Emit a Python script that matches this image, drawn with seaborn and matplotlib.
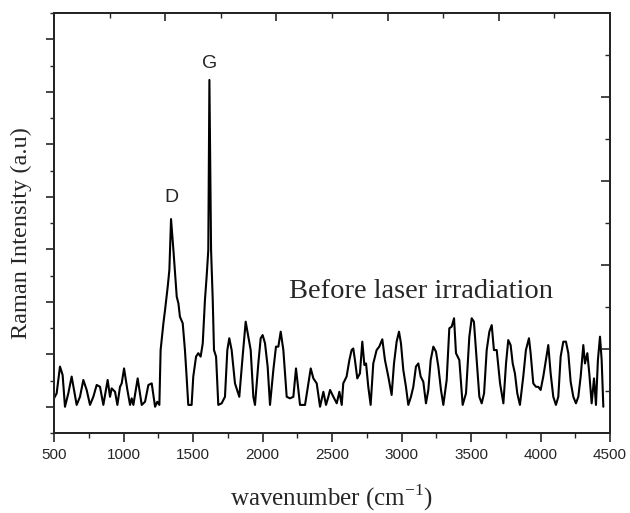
import numpy as np
import pandas as pd
import matplotlib
matplotlib.use("Agg")
import matplotlib.pyplot as plt
import seaborn as sns
from matplotlib.ticker import MultipleLocator, NullFormatter

wavenumber = [500, 519, 543, 562, 579, 603, 627, 644, 663, 687, 711, 735, 759, 783, 807, 831, 855,
              886, 903, 915, 939, 956, 975, 987, 1004, 1028, 1047, 1059, 1071, 1102, 1131, 1155,
              1179, 1203, 1227, 1243, 1258, 1267, 1287, 1299, 1318, 1330, 1335, 1342, 1359, 1371,
              1383, 1395, 1406, 1426, 1442, 1454, 1466, 1490, 1502, 1522, 1538, 1555, 1570, 1586,
              1598, 1610, 1618, 1630, 1642, 1651, 1666, 1682, 1706, 1730, 1747, 1761, 1778, 1802,
              1833, 1857, 1879, 1898, 1915, 1934, 1946, 1970, 1987, 2001, 2018, 2037, 2054, 2078,
              2097, 2114, 2131, 2150, 2174, 2198, 2222, 2241, 2258, 2270, 2306, 2330, 2347, 2366,
              2390, 2414, 2438, 2457, 2474,
              2486, 2510, 2534, 2553, 2570, 2581, 2605, 2625, 2641, 2653, 2665, 2682, 2701, 2718,
              2733, 2745, 2761, 2778, 2797, 2821, 2840, 2862, 2881, 2905, 2929, 2946, 2965, 2982,
              2996, 3013, 3032, 3049, 3068, 3085, 3104, 3121, 3138, 3157, 3176, 3193, 3210, 3229,
              3248, 3265, 3284, 3301, 3325, 3344, 3361, 3378, 3392, 3416, 3440, 3464, 3488, 3505,
              3521, 3541, 3560, 3577, 3594, 3613, 3632, 3649, 3665, 3685, 3709, 3733, 3752, 3768,
              3785, 3800, 3816, 3833, 3852, 3876, 3895, 3917, 3929, 3948, 3967, 3984, 4001, 4020,
              4039, 4056, 4073, 4092, 4111, 4128, 4145, 4164, 4183, 4200, 4217, 4236, 4255, 4272,
              4289, 4308, 4320, 4337, 4351, 4368, 4385, 4399, 4413, 4428, 4440, 4452]
intensity = [1.32, 1.51, 2.53, 2.21, 1.00, 1.51, 2.15, 1.64, 1.07, 1.38, 2.02, 1.64, 1.07, 1.38, 1.83,
             1.76, 1.07, 2.02, 1.38, 1.70, 1.57, 1.07, 1.76, 1.89, 2.46, 1.64, 1.07, 1.32, 1.07, 2.08,
             1.07, 1.19, 1.83, 1.89, 1.00, 1.19, 1.07, 3.16, 4.18, 4.69, 5.57, 6.21, 6.97, 8.15, 6.97,
             6.08, 5.19, 4.94, 4.43, 4.18, 3.16, 2.15, 1.07, 1.07, 2.15, 2.91, 3.04, 2.91, 3.41, 5.07,
             5.95, 6.97, 13.45, 6.97, 5.07, 3.16, 2.91, 1.07, 1.13, 1.38, 3.16, 3.61, 3.16, 1.89,
             1.38, 2.91, 4.24, 3.67, 3.16, 1.38, 1.07, 2.65, 3.61, 3.73, 3.42, 2.53, 1.07, 2.40,
             3.29, 3.29, 3.86, 3.16, 1.38, 1.32, 1.38, 2.46, 1.64, 1.07, 1.07, 1.89, 2.46, 2.08,
             1.89, 1.00, 1.57, 1.07, 1.38,
             1.64, 1.38, 1.13, 1.57, 1.07, 1.89, 2.15, 2.78, 3.16, 3.22, 2.78, 2.08, 2.27, 3.48,
             2.59, 2.65, 1.76, 1.07, 2.65, 3.16, 3.29, 3.57, 2.78, 2.15, 1.45, 2.65, 3.48, 3.86,
             3.42, 2.40, 1.76, 1.07, 1.38, 1.76, 2.53, 2.65, 2.15, 1.95, 1.13, 1.64, 2.78, 3.29,
             3.10, 2.53, 1.64, 1.07, 2.02, 3.99, 4.05, 4.37, 3.04, 2.78, 1.07, 1.51, 3.67, 4.37,
             4.24, 2.78, 1.38, 1.13, 1.51, 3.16, 3.86, 4.11, 3.16, 3.16, 1.89, 1.13, 2.65, 3.54,
             3.35, 2.65, 2.27, 1.51, 1.07, 2.15, 3.16, 3.61, 3.04, 1.89, 1.76, 1.76, 1.64, 2.15,
             2.78, 3.35, 2.27, 1.38, 1.07, 1.38, 2.91, 3.48, 3.48, 3.04, 1.95, 1.38, 1.13, 1.38,
             2.15, 3.35, 2.65, 3.04, 2.27, 1.13, 2.08, 1.07, 2.78, 3.67, 2.78, 1.00]

x_ticks = [500, 1000, 1500, 2000, 2500, 3000, 3500, 4000, 4500]
peak_labels = ["D", "G"]
peak_pos = [(1342, 8.15), (1618, 13.45)]

df = pd.DataFrame({"wavenumber": wavenumber, "intensity": intensity})

sns.set_style("ticks")
plt.rcParams["font.family"] = ["Liberation Sans", "DejaVu Sans"]

fig = plt.figure(figsize=(6.30, 5.13), dpi=100)
ax = fig.add_axes([54 / 630, 1 - 433 / 513, 556 / 630, 420 / 513])

sns.lineplot(data=df, x="wavenumber", y="intensity", color="black", linewidth=1.5, ax=ax,
             estimator=None, sort=False)

ax.set_xlim(500, 4500)
ax.set_ylim(0, 16)
ax.set_xticks(x_ticks)
ax.set_xticklabels([str(t) for t in x_ticks], fontsize=11)
ax.xaxis.set_minor_locator(MultipleLocator(250))
ax.set_yticks(np.arange(1, 16, 2))
ax.yaxis.set_minor_locator(MultipleLocator(1))
ax.yaxis.set_major_formatter(NullFormatter())
ax.tick_params(axis="x", which="major", direction="out", length=6.5, width=1.2, pad=4)
ax.tick_params(axis="x", which="minor", direction="out", length=3.5, width=1.0)
ax.tick_params(axis="y", which="major", direction="out", length=5.5, width=1.2)
ax.tick_params(axis="y", which="minor", direction="out", length=3.0, width=1.0)
for s in ax.spines.values():
    s.set_linewidth(1.3)
    s.set_color("black")

# top and right axes with their own tick spacing
axt = ax.twiny()
axt.set_xlim(0, 10)
axt.set_xticks(np.arange(0, 11, 2))
axt.xaxis.set_minor_locator(MultipleLocator(1))
axt.xaxis.set_major_formatter(NullFormatter())
axt.tick_params(axis="x", which="major", direction="in", length=6.0, width=1.2)
axt.tick_params(axis="x", which="minor", direction="in", length=3.5, width=1.0)
axr = ax.twinx()
axr.set_ylim(0, 10)
axr.set_yticks(np.arange(0, 11, 2))
axr.yaxis.set_minor_locator(MultipleLocator(1))
axr.yaxis.set_major_formatter(NullFormatter())
axr.tick_params(axis="y", which="major", direction="in", length=6.5, width=1.2)
axr.tick_params(axis="y", which="minor", direction="in", length=3.5, width=1.0)
for a in (axt, axr):
    for s in a.spines.values():
        s.set_linewidth(1.3)

ax.set_xlabel("wavenumber (cm$^{\\mathregular{-1}}$)", family="Liberation Serif", fontsize=18,
              labelpad=15)
ax.set_ylabel("Raman Intensity (a.u)", family="Liberation Serif", fontsize=17.5)
ax.yaxis.set_label_coords(-0.04, 0.476)

for lab, (px, py), off in zip(peak_labels, peak_pos, [0.5, 0.3]):
    ax.text(px, py + off, lab, ha="center", va="bottom", fontsize=14)

ax.text(2190, 5.4, "Before laser irradiation", family="Liberation Serif", fontsize=20.5,
        ha="left", va="center")

fig.savefig("out.png", dpi=100)
